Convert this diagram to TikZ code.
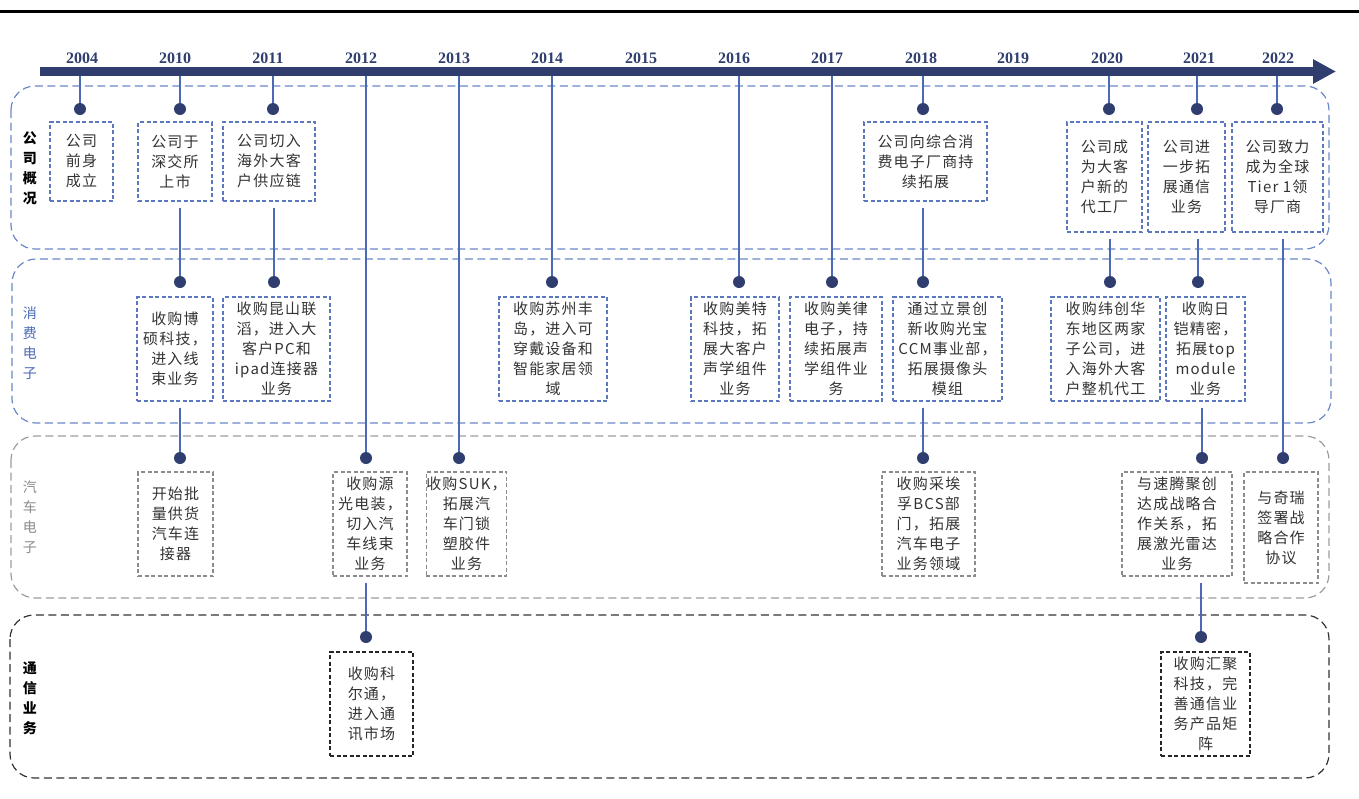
\documentclass[tikz,border=0pt]{standalone}
\usepackage{fontspec}
\setmainfont{Liberation Serif}
\newfontfamily\cjk[LetterSpace=8]{Noto Sans CJK SC}
\usetikzlibrary{arrows.meta}

\definecolor{azulescuro}{HTML}{2F3E6E}
\definecolor{azullinha}{HTML}{4A6AB6}
\definecolor{azulborda}{HTML}{5B78BE}
\definecolor{azulfaixa}{HTML}{6A87C8}
\definecolor{cinzaborda}{HTML}{8C8C8C}
\definecolor{texto}{HTML}{333333}

\begin{document}
\begin{tikzpicture}[x=1pt, y=-1pt,
    caixa/.style={draw, dash pattern=on 4pt off 2.5pt, line width=1.1pt, inner sep=0pt,
      align=center, text=texto, font=\cjk\fontsize{15}{20}\selectfont},
    caixaazul/.style={caixa, draw=azulborda},
    caixacinza/.style={caixa, draw=cinzaborda},
    caixapreta/.style={caixa, draw=black!85},
    ponto/.style={circle, fill=azulescuro, inner sep=0pt, minimum size=12pt},
    haste/.style={azullinha, line width=1.5pt},
    faixa/.style={dash pattern=on 8pt off 4.5pt, line width=1.2pt, rounded corners=24pt},
    rotulo/.style={align=center, font=\cjk\fontsize{14}{20}\selectfont},
    ano/.style={text=azulescuro, font=\fontsize{16}{16}\selectfont\bfseries}]

    % 1. VARIÁVEIS
    \def\W{1359}  % largura total
    \def\H{798}   % altura total
    \def\T{71.5}  % altura da linha do tempo
    \useasboundingbox (0,0) rectangle (\W,\H);

    % ==========================================
    % 2. FAIXAS DE FUNDO
    % ==========================================
    \draw[line width=3.3pt] (0,11.5) -- (\W,11.5);
    \draw[faixa, azulfaixa] (11,86) rectangle (1329,249);
    \draw[faixa, azulfaixa] (12,259) rectangle (1331,423);
    \draw[faixa, cinzaborda!85] (11,436) rectangle (1329,598);
    \draw[faixa, black!80] (10,615) rectangle (1329,778);

    \node[rotulo, font=\cjk\bfseries\fontsize{14}{20}\selectfont] (r1) at (30,168) {公\\司\\概\\况};
    \node[rotulo, text=azullinha] (r2) at (30,343) {消\\费\\电\\子};
    \node[rotulo, text=cinzaborda] (r3) at (30,517) {汽\\车\\电\\子};
    \node[rotulo, font=\cjk\bfseries\fontsize{14}{20}\selectfont] (r4) at (30,698) {通\\信\\业\\务};

    % ==========================================
    % 3. LINHA DO TEMPO
    % ==========================================
    \foreach \x/\a in {82/2004, 175/2010, 268/2011, 361/2012, 454/2013, 547/2014, 641/2015,
                       734/2016, 827/2017, 921/2018, 1013/2019, 1107/2020, 1199/2021, 1278/2022}
        \node[ano] (a\a) at (\x,58) {\a};
    \foreach \x/\a in {80/2004, 180/2010, 273/2011, 366/2012, 459/2013, 552/2014, 739/2016,
                       832/2017, 923/2018, 1109/2020, 1197/2021, 1277/2022}
        \coordinate (t\a) at (\x,\T);

    % ==========================================
    % 4. CAIXAS
    % ==========================================
    % Linha 1: visão geral da empresa
    \node[caixaazul, minimum width=63pt, minimum height=79pt] (c2004a) at (81.5,161.5) {公司\\前身\\成立};
    \node[caixaazul, minimum width=74pt, minimum height=79pt] (c2010a) at (175,161.5) {公司于\\深交所\\上市};
    \node[caixaazul, minimum width=92pt, minimum height=79pt] (c2011a) at (269,161.5) {公司切入\\海外大客\\户供应链};
    \node[caixaazul, minimum width=123pt, minimum height=79pt] (c2018a) at (925.5,161.5) {公司向综合消\\费电子厂商持\\续拓展};
    \node[caixaazul, minimum width=75pt, minimum height=110pt] (c2020a) at (1104.5,177) {公司成\\为大客\\户新的\\代工厂};
    \node[caixaazul, minimum width=77pt, minimum height=110pt] (c2021a) at (1186.5,177) {公司进\\一步拓\\展通信\\业务};
    \node[caixaazul, minimum width=91pt, minimum height=110pt] (c2022a) at (1277.5,177) {公司致力\\成为全球\\Tier 1领\\导厂商};

    % Linha 2: eletrônicos de consumo
    \node[caixaazul, minimum width=76pt, minimum height=104pt] (c2010b) at (175,349) {收购博\\硕科技，\\进入线\\束业务};
    \node[caixaazul, minimum width=107pt, minimum height=104pt] (c2011b) at (276.5,349) {收购昆山联\\滔，进入大\\客户PC和\\ipad连接器\\业务};
    \node[caixaazul, minimum width=108pt, minimum height=104pt] (c2014b) at (553,349) {收购苏州丰\\岛，进入可\\穿戴设备和\\智能家居领\\域};
    \node[caixaazul, minimum width=88pt, minimum height=104pt] (c2016b) at (735,349) {收购美特\\科技，拓\\展大客户\\声学组件\\业务};
    \node[caixaazul, minimum width=92pt, minimum height=104pt] (c2017b) at (836,349) {收购美律\\电子，持\\续拓展声\\学组件业\\务};
    \node[caixaazul, minimum width=109pt, minimum height=104pt] (c2018b) at (947.5,349) {通过立景创\\新收购光宝\\CCM事业部，\\拓展摄像头\\模组};
    \node[caixaazul, minimum width=109pt, minimum height=104pt] (c2020b) at (1105.5,349) {收购纬创华\\东地区两家\\子公司，进\\入海外大客\\户整机代工};
    \node[caixaazul, minimum width=79pt, minimum height=104pt] (c2021b) at (1205.5,349) {收购日\\铠精密，\\拓展top\\module\\业务};

    % Linha 3: eletrônica automotiva
    \node[caixacinza, minimum width=75pt, minimum height=104pt] (c2010c) at (175.5,524) {开始批\\量供货\\汽车连\\接器};
    \node[caixacinza, minimum width=74pt, minimum height=104pt] (c2012c) at (370,524) {收购源\\光电装，\\切入汽\\车线束\\业务};
    \node[caixacinza, minimum width=79pt, minimum height=104pt] (c2013c) at (466.5,524) {收购SUK，\\拓展汽\\车门锁\\塑胶件\\业务};
    \node[caixacinza, minimum width=93pt, minimum height=104pt] (c2018c) at (928.5,524) {收购采埃\\孚BCS部\\门，拓展\\汽车电子\\业务领域};
    \node[caixacinza, minimum width=110pt, minimum height=104pt] (c2021c) at (1177,524) {与速腾聚创\\达成战略合\\作关系，拓\\展激光雷达\\业务};
    \node[caixacinza, minimum width=74pt, minimum height=111pt] (c2022c) at (1281,527.5) {与奇瑞\\签署战\\略合作\\协议};

    % Linha 4: comunicações
    \node[caixapreta, minimum width=83pt, minimum height=104pt] (c2012d) at (371.5,704) {收购科\\尔通，\\进入通\\讯市场};
    \node[caixapreta, minimum width=89pt, minimum height=104pt] (c2021d) at (1205.5,704) {收购汇聚\\科技，完\\善通信业\\务产品矩\\阵};

    % ==========================================
    % 5. PONTOS E HASTES
    % ==========================================
    \foreach \x/\n in {80/2004a, 180/2010a, 273/2011a, 923/2018a, 1109/2020a, 1197/2021a, 1277/2022a}
        \coordinate (d\n) at (\x,109);
    \foreach \x/\n in {180/2010b, 274/2011b, 552/2014b, 739/2016b, 832/2017b, 923/2018b, 1110/2020b, 1198/2021b}
        \coordinate (d\n) at (\x,282);
    \foreach \x/\n in {180/2010c, 366/2012c, 459/2013c, 923/2018c, 1202/2021c, 1283/2022c}
        \coordinate (d\n) at (\x,458);
    \foreach \x/\n in {366/2012d, 1201/2021d}
        \coordinate (d\n) at (\x,637);

    % Hastes saindo da linha do tempo
    \foreach \a/\d in {2004/2004a, 2010/2010a, 2011/2011a, 2018/2018a, 2020/2020a, 2021/2021a,
                       2022/2022a, 2012/2012c, 2013/2013c, 2014/2014b, 2016/2016b, 2017/2017b}
        \draw[haste] (t\a) -- (d\d);
    % Hastes saindo das caixas
    \foreach \d/\c in {2010b/2010a, 2010c/2010b, 2011b/2011a, 2018b/2018a, 2018c/2018b, 2020b/2020a,
                       2021b/2021a, 2021c/2021b, 2021d/2021c, 2022c/2022a, 2012d/2012c}
        \draw[haste, shorten <=6pt] (d\d |- c\c.south) -- (d\d);

    \foreach \d in {2004a, 2010a, 2011a, 2018a, 2020a, 2021a, 2022a, 2010b, 2011b, 2014b, 2016b,
                    2017b, 2018b, 2020b, 2021b, 2010c, 2012c, 2013c, 2018c, 2021c, 2022c, 2012d, 2021d}
        \node[ponto] (p\d) at (d\d) {};

    % Reforça a barra da linha do tempo por cima das hastes
    \draw[azulescuro, line width=9pt, -{Triangle[length=23pt, width=23pt]}] (40,\T) -- (1336,\T);
\end{tikzpicture}
\end{document}
